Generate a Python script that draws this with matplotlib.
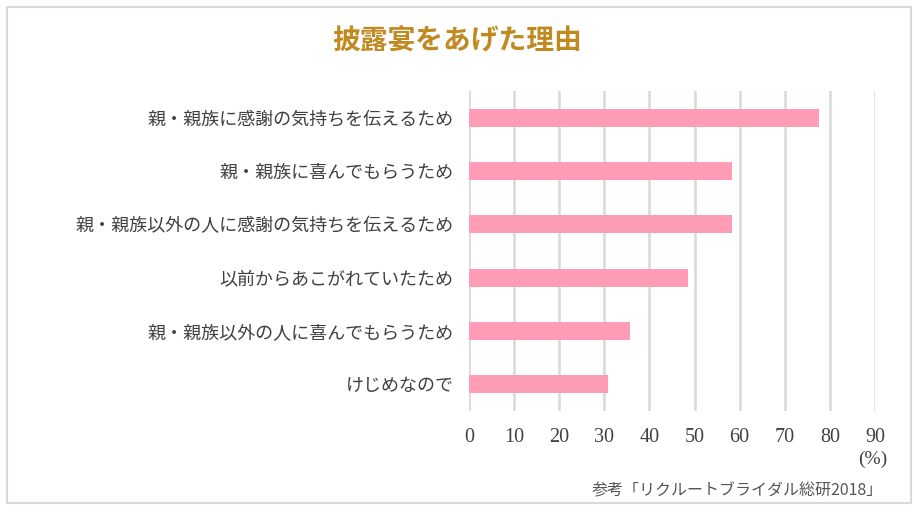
import matplotlib.pyplot as plt
from matplotlib.patches import Rectangle

plt.rcParams['font.family'] = ['Noto Sans CJK JP', 'DejaVu Sans']

# data (top to bottom)
reasons = ['親・親族に感謝の気持ちを伝えるため',
           '親・親族に喜んでもらうため',
           '親・親族以外の人に感謝の気持ちを伝えるため',
           '以前からあこがれていたため',
           '親・親族以外の人に喜んでもらうため',
           'けじめなので']
percent = [77.5, 58.3, 58.3, 48.6, 35.7, 30.8]
xticks = [0, 10, 20, 30, 40, 50, 60, 70, 80, 90]

fig = plt.figure(figsize=(9.14, 5.16), dpi=100)
ax = fig.add_axes([469/914, 105/516, 406/914, 320/516])

ypos = list(range(len(reasons)))
ax.barh(ypos, percent, height=0.34, color='#FF9DB6', zorder=3)
ax.set_ylim(len(reasons) - 0.5, -0.5)
ax.set_xlim(0, 90)

ax.set_yticks(ypos)
ax.set_yticklabels(reasons, fontsize=13, color='#404040')
ax.set_xticks(xticks)
ax.set_xticklabels([str(t) for t in xticks], fontsize=14.5, color='#404040',
                   family='Liberation Serif')
ax.tick_params(axis='y', length=0, pad=11)
ax.tick_params(axis='x', length=0, pad=12)
ax.grid(axis='x', color='#d9d9d9', linewidth=1.8, zorder=0)
for s in ax.spines.values():
    s.set_visible(False)

fig.text(457/914, 1 - 42/516, '披露宴をあげた理由', fontsize=20, fontweight='bold',
         color='#C08A20', ha='center', va='center')
fig.text(887/914, 1 - 459/516, '(%)', fontsize=14, color='#404040',
         ha='right', va='center', family='Liberation Serif')
fig.text(883/914, 1 - 491/516, '参考「リクルートブライダル総研2018」', fontsize=11.5,
         color='#555555', ha='right', va='center')

# outer frame
fig.patches.append(Rectangle((6.5/914, 1 - 502.5/516), 904/914, 496/516,
                             transform=fig.transFigure, fill=False,
                             edgecolor='#d9d9d9', linewidth=1.5))

fig.savefig('out.png', dpi=100, facecolor='white')
